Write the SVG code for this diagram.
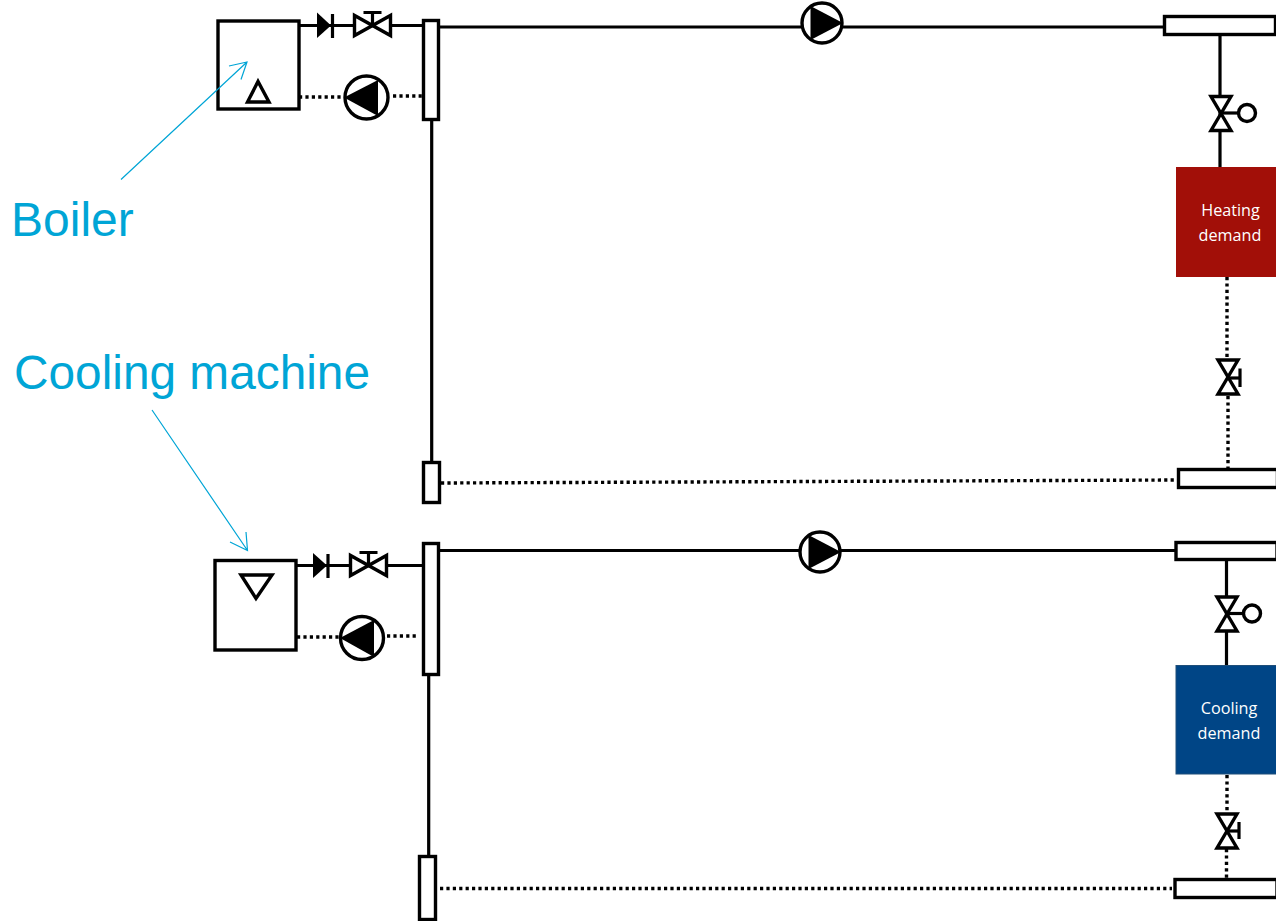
<svg xmlns="http://www.w3.org/2000/svg" width="1276" height="921" viewBox="0 0 1276 921">
<style>
.b{fill:#fff;stroke:#000;stroke-width:3.4}
.o{fill:none;stroke:#000;stroke-width:3.4}
.p{fill:none;stroke:#000;stroke-width:3.2}
.d{fill:none;stroke:#000;stroke-width:3.4;stroke-dasharray:3.2 3.2}
.k{fill:#000;stroke:none}
.a{fill:none;stroke:#00A5D6;stroke-width:1.2}
.l{font-family:"Liberation Sans",Arial,sans-serif;fill:#00A5D6}
.t{font-family:"Open Sans","Liberation Sans",sans-serif;font-size:16.2px;fill:#fff;text-anchor:middle}
</style>
<defs>
<g id="hv"><path class="b" d="M-18,-10V10L18,-10V10Z"/><path class="p" d="M0,0V-13M-9,-13H9"/></g>
<g id="dv"><path class="b" d="M-10,-17H10L-10,17H10Z"/></g>
</defs>
<g id="connectors">
<path class="p" d="M299,25.500H354M391,25.500H423M439,27H1164M1220,34V168M431.700,119V462"/>
<path class="p" d="M296,565.500H350M387,565.500H423M438,550.500H1176M1226.500,559V665M428.700,675V856"/>
<path class="d" d="M299,97H343M393,96H423M1227,277V358M1228,396V469M441,483L1178,480"/>
<path class="d" d="M297,637H339M387,636H417M1227,775V813M1226.500,849V879M440,888.500H1172"/>
</g>
<g id="boiler"><rect class="b" x="218" y="21" width="81" height="88"/><path class="o" d="M258,81.500L247.500,102H269Z"/></g>
<g id="boiler-check"><path class="k" d="M317,12.500L331,25.500L317,38Z"/><path class="p" d="M332.500,14V38"/></g>
<g id="boiler-valve"><use href="#hv" x="372.500" y="25.500"/></g>
<g id="boiler-pump"><circle class="b" cx="366.500" cy="97.500" r="21.500"/><path class="k" d="M344,97.500L378,80V116Z"/></g>
<g id="supply-header-1"><rect class="b" x="423.500" y="20.500" width="15" height="99"/></g>
<g id="return-header-1"><rect class="b" x="423.500" y="462.500" width="16" height="40"/></g>
<g id="main-pump-1"><circle class="b" cx="822" cy="23" r="20"/><path class="k" d="M810.500,6L843,23L810.500,40Z"/></g>
<g id="heating-supply"><rect class="b" x="1164.500" y="16.500" width="111" height="18"/></g>
<g id="heating-valve"><use href="#dv" x="1221" y="113.500"/><path class="p" d="M1221,113H1238"/><circle class="o" cx="1247" cy="113" r="8.500"/></g>
<g id="heating-demand"><rect x="1176" y="167" width="100" height="110" fill="#A20F08"/><text class="t" x="1230.500" y="216">Heating</text><text class="t" x="1230" y="241">demand</text></g>
<g id="heating-return-valve"><use href="#dv" x="1228" y="377"/><path class="p" d="M1228,378H1240"/><path class="p" d="M1240,368.500V387"/></g>
<g id="heating-return"><rect class="b" x="1178.500" y="469.500" width="99" height="18"/></g>
<g id="cooling-machine"><rect class="b" x="215" y="560.500" width="81" height="89.500"/><path class="o" d="M241,575H272L256,598.500Z"/></g>
<g id="cooling-check"><path class="k" d="M313,553L327,565.500L313,578Z"/><path class="p" d="M328,554V578"/></g>
<g id="cooling-valve"><use href="#hv" x="368.500" y="565.500"/></g>
<g id="cooling-pump"><circle class="b" cx="362" cy="638" r="21.500"/><path class="k" d="M340,638L374,620V657Z"/></g>
<g id="supply-header-2"><rect class="b" x="423.500" y="543.500" width="15" height="131"/></g>
<g id="return-header-2"><rect class="b" x="419.500" y="856.500" width="16" height="63"/></g>
<g id="main-pump-2"><circle class="b" cx="820" cy="552" r="20"/><path class="k" d="M808.500,535L841,552L808.500,569Z"/></g>
<g id="cooling-supply"><rect class="b" x="1176" y="542.500" width="101" height="17"/></g>
<g id="cooling-demand-valve"><use href="#dv" x="1227" y="614"/><path class="p" d="M1227,613.500H1243"/><circle class="o" cx="1252" cy="613.500" r="8.500"/></g>
<g id="cooling-demand"><rect x="1176" y="665.500" width="101" height="108.500" fill="#004586" stroke="#1F4E79"/><text class="t" x="1229" y="714">Cooling</text><text class="t" x="1229" y="739">demand</text></g>
<g id="cooling-return-valve"><use href="#dv" x="1227" y="831"/><path class="p" d="M1227,831H1239"/><path class="p" d="M1239,822V839"/></g>
<g id="cooling-return"><rect class="b" x="1175" y="879.500" width="102" height="18"/></g>
<g id="annotation-arrows">
<path class="a" d="M121,179.500L247,62M229,66L247,62L241,79.500"/>
<path class="a" d="M152,410L247.500,550.500M230,542L247.500,550.500L246,532"/>
</g>
<text class="l" x="11" y="236" font-size="48">Boiler</text>
<text class="l" x="14" y="389" font-size="47.800">Cooling machine</text>
</svg>
